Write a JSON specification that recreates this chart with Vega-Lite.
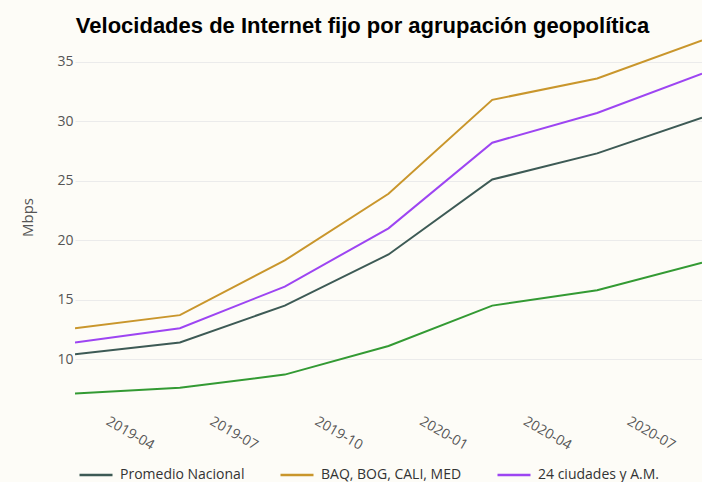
{
  "$schema": "https://vega.github.io/schema/vega-lite/v6.json",
  "width": 627,
  "height": 358,
  "autosize": {"type": "none"},
  "padding": {"left": 75, "top": 38, "right": 0, "bottom": 86},
  "background": "#fdfcf7",
  "title": {
    "text": "Velocidades de Internet fijo por agrupación geopolítica",
    "font": "Liberation Sans",
    "fontSize": 22,
    "fontWeight": "bold",
    "color": "#000000",
    "anchor": "middle",
    "dx": -26,
    "offset": 0
  },
  "config": {
    "view": {"stroke": null},
    "axis": {"labelFont": "Open Sans", "titleFont": "Open Sans", "labelColor": "#555555", "titleColor": "#555555", "domain": false, "ticks": false},
    "legend": {"labelFont": "Open Sans", "labelColor": "#333333"}
  },
  "data": {
    "values": [
      {"fecha": "2019-03-01T00:00:00", "grupo": "Promedio Nacional", "mbps": 10.4},
      {"fecha": "2019-06-01T00:00:00", "grupo": "Promedio Nacional", "mbps": 11.4},
      {"fecha": "2019-09-01T00:00:00", "grupo": "Promedio Nacional", "mbps": 14.5},
      {"fecha": "2019-12-01T00:00:00", "grupo": "Promedio Nacional", "mbps": 18.8},
      {"fecha": "2020-03-01T00:00:00", "grupo": "Promedio Nacional", "mbps": 25.1},
      {"fecha": "2020-06-01T00:00:00", "grupo": "Promedio Nacional", "mbps": 27.3},
      {"fecha": "2020-09-01T00:00:00", "grupo": "Promedio Nacional", "mbps": 30.3},
      {"fecha": "2019-03-01T00:00:00", "grupo": "BAQ, BOG, CALI, MED", "mbps": 12.6},
      {"fecha": "2019-06-01T00:00:00", "grupo": "BAQ, BOG, CALI, MED", "mbps": 13.7},
      {"fecha": "2019-09-01T00:00:00", "grupo": "BAQ, BOG, CALI, MED", "mbps": 18.3},
      {"fecha": "2019-12-01T00:00:00", "grupo": "BAQ, BOG, CALI, MED", "mbps": 23.9},
      {"fecha": "2020-03-01T00:00:00", "grupo": "BAQ, BOG, CALI, MED", "mbps": 31.8},
      {"fecha": "2020-06-01T00:00:00", "grupo": "BAQ, BOG, CALI, MED", "mbps": 33.6},
      {"fecha": "2020-09-01T00:00:00", "grupo": "BAQ, BOG, CALI, MED", "mbps": 36.8},
      {"fecha": "2019-03-01T00:00:00", "grupo": "24 ciudades y A.M.", "mbps": 11.4},
      {"fecha": "2019-06-01T00:00:00", "grupo": "24 ciudades y A.M.", "mbps": 12.6},
      {"fecha": "2019-09-01T00:00:00", "grupo": "24 ciudades y A.M.", "mbps": 16.1},
      {"fecha": "2019-12-01T00:00:00", "grupo": "24 ciudades y A.M.", "mbps": 21.0},
      {"fecha": "2020-03-01T00:00:00", "grupo": "24 ciudades y A.M.", "mbps": 28.2},
      {"fecha": "2020-06-01T00:00:00", "grupo": "24 ciudades y A.M.", "mbps": 30.7},
      {"fecha": "2020-09-01T00:00:00", "grupo": "24 ciudades y A.M.", "mbps": 34.0},
      {"fecha": "2019-03-01T00:00:00", "grupo": "Resto del país", "mbps": 7.1},
      {"fecha": "2019-06-01T00:00:00", "grupo": "Resto del país", "mbps": 7.6},
      {"fecha": "2019-09-01T00:00:00", "grupo": "Resto del país", "mbps": 8.7},
      {"fecha": "2019-12-01T00:00:00", "grupo": "Resto del país", "mbps": 11.1},
      {"fecha": "2020-03-01T00:00:00", "grupo": "Resto del país", "mbps": 14.5},
      {"fecha": "2020-06-01T00:00:00", "grupo": "Resto del país", "mbps": 15.8},
      {"fecha": "2020-09-01T00:00:00", "grupo": "Resto del país", "mbps": 18.1}
    ]
  },
  "mark": {"type": "line", "strokeWidth": 2, "clip": true},
  "encoding": {
    "x": {
      "field": "fecha",
      "type": "temporal",
      "scale": {"nice": false},
      "axis": {
        "title": null,
        "format": "%Y-%m",
        "labelAngle": 30,
        "labelAlign": "left",
        "labelBaseline": "top",
        "labelFontSize": 14,
        "labelPadding": 18,
        "grid": false,
        "tickCount": {"interval": "month", "step": 3}
      }
    },
    "y": {
      "field": "mbps",
      "type": "quantitative",
      "scale": {"domain": [6.9, 37.0], "nice": false, "zero": false},
      "axis": {
        "title": "Mbps",
        "titleFontSize": 15,
        "titleFontWeight": "normal",
        "titlePadding": 21,
        "labelFontSize": 14,
        "labelPadding": 2,
        "values": [10, 15, 20, 25, 30, 35],
        "gridColor": "#ebebeb",
        "gridWidth": 1
      }
    },
    "color": {
      "field": "grupo",
      "type": "nominal",
      "scale": {
        "domain": ["Promedio Nacional", "BAQ, BOG, CALI, MED", "24 ciudades y A.M.", "Resto del país"],
        "range": ["#3d5a55", "#c9962c", "#9d45f2", "#339a33"]
      },
      "legend": {
        "title": null,
        "orient": "none",
        "direction": "horizontal",
        "legendX": 3,
        "legendY": 419,
        "values": ["Promedio Nacional", "BAQ, BOG, CALI, MED", "24 ciudades y A.M."],
        "symbolType": "stroke",
        "symbolSize": 1089,
        "symbolStrokeWidth": 2.5,
        "labelFontSize": 14,
        "labelOffset": 6,
        "columnPadding": 30
      }
    }
  }
}
